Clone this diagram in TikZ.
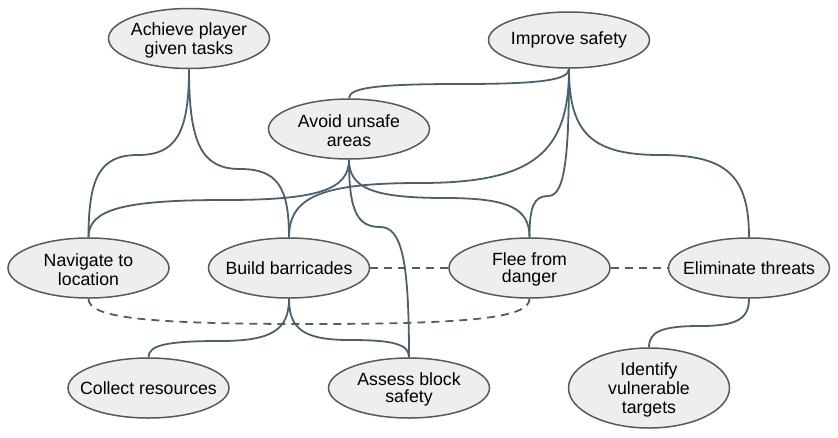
\documentclass[tikz,border=0pt]{standalone}
\usepackage{fontspec}
\setmainfont{Liberation Sans}
\usetikzlibrary{shapes.geometric}
\definecolor{edgec}{RGB}{74,96,106}
\definecolor{nodefill}{RGB}{238,238,238}
\definecolor{nodeborder}{RGB}{88,88,88}
\begin{document}
\begin{tikzpicture}[x=1pt,y=-1pt,
  goal/.style={ellipse, draw=nodeborder, fill=nodefill, line width=1.5pt,
    minimum width=161pt, minimum height=60pt, inner sep=0pt},
  txt/.style={inner sep=0pt, align=center, font=\fontsize{17.7}{19}\selectfont},
  multitxt/.style={txt, yshift=-1.5pt},
  tighttxt/.style={txt, yshift=-1pt, font=\fontsize{17.7}{17}\selectfont},
  link/.style={draw=edgec, line width=1.8pt},
  dlink/.style={link, dash pattern=on 8pt off 6pt}]
\useasboundingbox (0,0) rectangle (838,437);

% goals
\node[goal] (A) at (189,38.5) {};
\node[multitxt] (At) at (A.center) {Achieve player\\given tasks};
\node[goal, minimum height=56pt] (I) at (569,40) {};
\node[txt] (It) at (I.center) {Improve safety};
\node[goal] (V) at (349,129) {};
\node[multitxt] (Vt) at (V.center) {Avoid unsafe\\areas};
\node[goal] (N) at (88.5,268) {};
\node[multitxt] (Nt) at (N.center) {Navigate to\\location};
\node[goal] (B) at (289,268) {};
\node[txt] (Bt) at (B.center) {Build barricades};
\node[goal] (F) at (529.5,268) {};
\node[tighttxt] (Ft) at (F.center) {Flee from\\danger};
\node[goal] (E) at (749,268) {};
\node[txt] (Et) at (E.center) {Eliminate threats};
\node[goal] (C) at (148.5,388) {};
\node[txt] (Ct) at (C.center) {Collect resources};
\node[goal] (S) at (409,388) {};
\node[tighttxt] (St) at (S.center) {Assess block\\safety};
\node[goal, minimum height=80pt] (T) at (649,388) {};
\node[multitxt] (Tt) at (T.center) {Identify\\vulnerable\\targets};

% solid links
\draw[link] (A.south) .. controls (189,133) and (176,155) .. (138,155)
  .. controls (100.9,155) and (88.5,175.75) .. (N.north);
\draw[link] (A.south) .. controls (189,143.75) and (201.75,169) .. (240,169)
  .. controls (276.75,169) and (289,186.25) .. (B.north);
\draw[link] (I.south) .. controls (569,80) and (541.75,84) .. (460,84)
  .. controls (376.75,84) and (349,87.75) .. (V.north);
\draw[link] (I.south) .. controls (569,154) and (531.75,183) .. (420,183)
  .. controls (321.75,183) and (289,196.75) .. (B.north);
\draw[link] (I.south) .. controls (569,164) and (563.75,196) .. (548,196)
  .. controls (534,196) and (529.5,206.5) .. (F.north);
\draw[link] (I.south) .. controls (569,133.25) and (591.75,155) .. (660,155)
  .. controls (726.75,155) and (749,175.75) .. (E.north);
\draw[link] (V.south) .. controls (349,189.75) and (318,200) .. (225,200)
  .. controls (122.6,200) and (88.5,209.5) .. (N.north);
\draw[link] (V.south) .. controls (349,188.25) and (373,198) .. (445,198)
  .. controls (508.4,198) and (529.5,208) .. (F.north);
\draw[link] (V.south) .. controls (349,210) and (356.75,227) .. (380,227)
  .. controls (401.75,227) and (409,259.75) .. (S.north);
\draw[link] (B.south) .. controls (289,330) and (271.75,341) .. (220,341)
  .. controls (166.4,341) and (148.5,345.25) .. (C.north);
\draw[link] (B.south) .. controls (289,329.5) and (304.25,340) .. (350,340)
  .. controls (394.25,340) and (409,344.5) .. (S.north);
\draw[link] (E.south) .. controls (749,319) and (736.75,326) .. (700,326)
  .. controls (661.75,326) and (649,331.5) .. (T.north);

% dashed links
\draw[dlink] (B.east) -- (F.west);
\draw[dlink] (F.east) -- (E.west);
\draw[dlink] (N.south) .. controls (88.5,317.5) and (143.6,324) .. (309,324)
  .. controls (474.4,324) and (529.5,317.5) .. (F.south);
\end{tikzpicture}
\end{document}
